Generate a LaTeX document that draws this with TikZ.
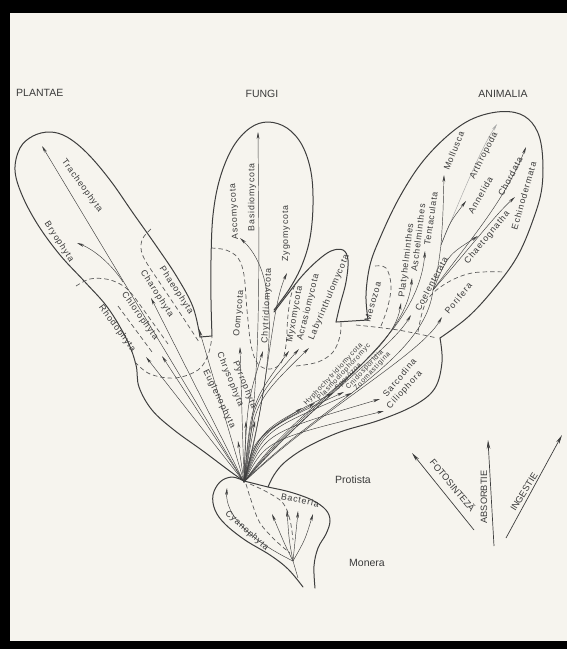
\documentclass[tikz,border=0pt]{standalone}
\usepackage{fontspec}
\setmainfont{Liberation Sans}
\newfontfamily\lblfont[LetterSpace=10]{Liberation Sans}
\usetikzlibrary{arrows.meta}
\definecolor{paper}{HTML}{F6F4EE}
\definecolor{ink}{HTML}{3E3E3E}
\definecolor{txt}{HTML}{3A3A3A}
\begin{document}
\begin{tikzpicture}[x=1pt,y=-1pt,
 outl/.style={draw=ink,line width=1pt,line join=round,line cap=round},
 dashln/.style={draw=ink!85,line width=0.7pt,dash pattern=on 4.5pt off 3pt},
 arr/.style={draw=ink,line width=0.45pt,-{Stealth[length=7pt,width=2.8pt]}},
 plainln/.style={draw=ink,line width=0.45pt},
 faint/.style={draw=ink!45,line width=0.45pt},
 lbl/.style={font=\lblfont\fontsize{8.8}{9}\selectfont,text=txt,inner sep=0.4pt,anchor=west},
 lbls/.style={lbl,font=\lblfont\fontsize{7}{8}\selectfont},
 biglbl/.style={font=\fontsize{10.5}{12}\selectfont,text=txt,inner sep=0pt},
 leg/.style={font=\fontsize{9.2}{10}\selectfont,text=txt,inner sep=0.5pt},
 legarr/.style={draw=ink,line width=0.7pt,-{Stealth[length=9pt,width=3.6pt]}},
]
\useasboundingbox (0,0) rectangle (567,649);
\fill[paper] (0,0) rectangle (567,649);
\fill[black] (0,0) rectangle (10,649);
\fill[black] (0,0) rectangle (567,13);
\fill[black] (0,641) rectangle (567,649);

% ---------- outlines ----------
\draw[outl] plot[smooth,tension=0.6] coordinates {(244,481) (231,472) (203,451) (174,430) (152,410) (139,387) (136,365) (127,340) (108,308) (85,282) (60,255) (38,225) (22,195) (15,170) (20,148) (33,136) (50,132) (67,137) (87,153) (110,180) (133,213) (157,247) (177,277) (193,307) (200,337)};
\draw[outl] (200,337) -- (212,336);
\draw[outl] plot[smooth,tension=0.6] coordinates {(212,336) (211,300) (211,260) (213,215) (220,178) (233,147) (250,128) (268,122) (287,128) (302,145) (311,172) (313,205) (310,238) (302,265) (290,288) (274,310)};
\draw[outl] plot[smooth,tension=0.6] coordinates {(274,312) (287,295) (302,276) (317,261) (331,251) (343,250) (348,260) (346,282) (340,305) (336,322)};
\draw[outl] (336,322) -- (368,320);
\draw[outl] plot[smooth,tension=0.6] coordinates {(368,320) (366,295) (370,265) (380,238) (398,200) (420,165) (445,138) (470,120) (497,112) (520,114) (535,127) (542,150) (542,187) (533,220) (517,257) (493,290) (468,317) (440,338)};
\draw[outl] plot[smooth,tension=0.6] coordinates {(440,338) (442,362) (435,388) (415,405) (380,420) (340,432) (307,447) (285,462) (274,475) (268,487)};
% Monera
\draw[outl] plot[smooth,tension=0.6] coordinates {(244,481) (256,484) (268,487) (290,492) (312,500) (326,510) (330,521) (326,534) (318,548) (314,566) (315,588)};
\draw[outl] plot[smooth,tension=0.6] coordinates {(244,481) (232,477) (220,482) (213,495) (215,510) (225,524) (245,540) (270,555) (288,569) (303,587)};

% ---------- dashed boundaries ----------
\draw[dashln] plot[smooth,tension=0.6] coordinates {(151,229) (142,240) (143,256) (160,283) (180,313) (199,342)};
\draw[dashln] plot[smooth,tension=0.6] coordinates {(76,286) (90,279) (106,279) (120,284) (131,293) (148,316) (168,344)};
\draw[dashln] (118,306) -- (152,352);
\draw[dashln] plot[smooth,tension=0.6] coordinates {(135,362) (150,374) (175,378) (198,370) (208,355) (212,337)};
\draw[dashln] plot[smooth,tension=0.6] coordinates {(211,248) (226,250) (238,258) (244,275) (247,310) (251,345) (258,364) (270,369) (281,363) (286,345) (288,315) (292,292) (300,278)};
\draw[dashln] plot[smooth,tension=0.6] coordinates {(296,366) (318,362) (333,352) (340,336) (341,322)};
\draw[dashln] plot[smooth,tension=0.6] coordinates {(356,325) (398,330) (437,338)};
\draw[dashln] plot[smooth,tension=0.6] coordinates {(375,266) (386,268) (391,285) (388,306) (381,326)};
\draw[dashln] plot[smooth,tension=0.6] coordinates {(418,332) (426,302) (445,284) (472,273) (505,272)};
\draw[dashln] plot[smooth,tension=0.6] coordinates {(246,484) (252,503) (260,523) (275,540) (290,553)};
\draw[dashln] plot[smooth,tension=0.6] coordinates {(250,484) (267,492) (283,503) (290,520) (293,540)};

% ---------- fan of lineages ----------
\coordinate (C) at (244,482);
\coordinate (tRho) at (146,357);
\coordinate (tChl) at (162,356);
\coordinate (tTra) at (42,146);
\coordinate (bBry) at (123,282);
\coordinate (tBry) at (77,243);
\coordinate (tCha) at (151,298);
\coordinate (tPha) at (199,329);
\coordinate (tEug) at (238,441);
\coordinate (tChr) at (246,421);
\coordinate (tPyr) at (255,421);
\coordinate (tOom) at (240,347);
\coordinate (tChy) at (263,351);
\coordinate (tBas) at (258,132);
\coordinate (tAsc) at (240,238);
\coordinate (tZyg) at (287,273);
\coordinate (tMyx) at (289,351);
\coordinate (tAcr) at (299,349);
\coordinate (tLab) at (309,348);
\coordinate (tHyp) at (302,408);
\coordinate (tPla) at (315,403);
\coordinate (tSpo) at (333,393);
\coordinate (tCni) at (344,392);
\coordinate (tZoo) at (352,393);
\coordinate (tSar) at (380,399);
\coordinate (tCil) at (384,411);
\coordinate (tPlt) at (401,303);
\coordinate (tAsh) at (412,278);
\coordinate (tTen) at (425,251);
\coordinate (tCoe) at (411,315);
\coordinate (tPor) at (442,317);
\coordinate (kA) at (433,290);
\coordinate (kB) at (441,245);
\coordinate (tMol) at (444,175);
\coordinate (tArt) at (497,124);
\coordinate (tAnn) at (466,201);
\coordinate (tCht) at (478,236);
\coordinate (tChd) at (526,147);
\coordinate (tEch) at (515,197);

\draw[arr] (C) -- (tRho);
\draw[arr] (C) -- (tChl);
\draw[arr] (C) -- (tTra);
\draw[arr] (bBry) .. controls (112,265) and (95,250) .. (tBry);
\draw[arr] (C) -- (tCha);
\draw[arr] (C) -- (tPha);
\draw[arr] (C) -- (tEug);
\draw[arr] (C) -- (tChr);
\draw[arr] (C) -- (tPyr);
\draw[arr] (C) -- (tOom);
\draw[arr] (C) .. controls (247,403) .. (tChy);
\draw[arr] (C) .. controls (262,380) and (259,260) .. (tBas);
\draw[arr] (C) .. controls (270,380) and (285,280) .. (tAsc);
\draw[arr] (C) .. controls (268,400) and (270,310) .. (tZyg);
\draw[arr] (C) .. controls (251,403) .. (tMyx);
\draw[arr] (C) .. controls (252,402) .. (tAcr);
\draw[arr] (C) .. controls (254,402) .. (tLab);
\draw[arr] (C) .. controls (253,440) .. (tHyp);
\draw[arr] (C) .. controls (256,436) .. (tPla);
\draw[arr] (C) .. controls (259,430) .. (tSpo);
\draw[arr] (C) .. controls (261,430) .. (tCni);
\draw[arr] (C) .. controls (263,431) .. (tZoo);
\draw[arr] (C) .. controls (265,433) .. (tSar);
\draw[arr] (C) .. controls (266,440) .. (tCil);
\draw[arr] (C) .. controls (300,400) and (392,360) .. (tPlt);
\draw[arr] (C) .. controls (305,400) and (405,350) .. (tAsh);
\draw[arr] (C) .. controls (310,400) and (418,340) .. (tTen);
\draw[arr] (C) .. controls (310,405) and (390,350) .. (tCoe);
\draw[arr] (C) .. controls (320,410) and (420,355) .. (tPor);
\draw[plainln] (C) .. controls (320,405) and (425,360) .. (kA);
\draw[plainln] (kA) .. controls (438,268) .. (kB);
\draw[arr] (kB) .. controls (443,215) .. (tMol);
\draw[faint,-{Stealth[length=7pt,width=2.8pt]}] (kB) .. controls (460,200) and (480,150) .. (tArt);
\draw[arr] (kB) .. controls (450,222) .. (tAnn);
\draw[arr] (kA) .. controls (448,255) .. (tCht);
\draw[arr] (kA) .. controls (470,240) and (505,200) .. (tChd);
\draw[arr] (kA) .. controls (470,248) and (495,215) .. (tEch);

% ---------- Monera lineages ----------
\coordinate (M) at (293,561);
\coordinate (tCya) at (227,488);
\coordinate (tBa1) at (272,514);
\coordinate (tBa2) at (287,510);
\coordinate (tBa3) at (298,511);
\coordinate (tBa4) at (313,514);
\draw[plainln] (M) -- (298,578);
\draw[arr] (M) .. controls (250,540) and (225,515) .. (tCya);
\draw[arr] (M) .. controls (285,545) .. (tBa1);
\draw[arr] (M) .. controls (289,540) .. (tBa2);
\draw[arr] (M) .. controls (296,538) .. (tBa3);
\draw[arr] (M) .. controls (305,540) .. (tBa4);

% ---------- labels ----------
\node[biglbl,anchor=west] (plantae) at (16,93) {PLANTAE};
\node[biglbl] (fungi) at (262,94) {FUNGI};
\node[biglbl] (animalia) at (503,94) {ANIMALIA};
\node[biglbl] (protista) at (353,480) {Protista};
\node[biglbl] (monera) at (367,563) {Monera};

\node[lbl,rotate=-54] (lTra) at (63,160) {Tracheophyta};
\node[lbl,rotate=-57] (lBry) at (46,222) {Bryophyta};
\node[lbl,rotate=-57] (lCha) at (142,271) {Charophyta};
\node[lbl,rotate=-57] (lPha) at (161,267) {Phaeophyta};
\node[lbl,rotate=-54] (lChl) at (123,293) {Chlorophyta};
\node[lbl,rotate=-53] (lRho) at (100,306) {Rhodophyta};
\node[lbl,rotate=-64] (lEug) at (205,370) {Euglenophyta};
\node[lbl,rotate=-68] (lChr) at (219,352) {Chrysophyta};
\node[lbl,rotate=-68] (lPyr) at (235,361) {Pyrrophyta};

\node[lbl,rotate=93] (lAsc) at (236,240) {Ascomycota};
\node[lbl,rotate=90] (lBas) at (252,232) {Basidiomycota};
\node[lbl,rotate=90] (lZyg) at (286,262) {Zygomycota};
\node[lbl,rotate=85] (lOom) at (237,337) {Oomycota};
\node[lbl,rotate=87] (lChy) at (265,344) {Chytridiomycota};
\node[lbl,rotate=80] (lMyx) at (290,343) {Myxomycota};
\node[lbl,rotate=76] (lAcr) at (300,341) {Acrasiomycota};
\node[lbl,rotate=67] (lLab) at (311,340) {Labyrinthulomycota};

\node[lbls,rotate=47] (lHyp) at (305,405) {Hyphochytridiomycota};
\node[lbls,rotate=47] (lPla) at (318,400) {Plasmodiophoromyc};
\node[lbls,rotate=47] (lSpo) at (336,390) {Sporozoa};
\node[lbls,rotate=47] (lCni) at (347,389) {Cnidosporidia};
\node[lbls,rotate=47] (lZoo) at (355,390) {Zoomastigina};
\node[lbl,rotate=50] (lSar) at (384,396) {Sarcodina};
\node[lbl,rotate=47] (lCil) at (388,408) {Ciliophora};

\node[lbl,rotate=74] (lMes) at (367,322) {Mesozoa};
\node[lbl,rotate=83] (lPlt) at (402,298) {Platyhelminthes};
\node[lbl,rotate=83] (lAsh) at (414,272) {Aschelminthes};
\node[lbl,rotate=82] (lTen) at (427,246) {Tentaculata};
\node[lbl,rotate=62] (lCoe) at (417,311) {Coelenterata};
\node[lbl,rotate=50] (lPor) at (446,313) {Porifera};
\node[lbl,rotate=50] (lCht) at (466,263) {Chaetognatha};
\node[lbl,rotate=68] (lMol) at (446,170) {Mollusca};
\node[lbl,rotate=63] (lArt) at (472,179) {Arthropoda};
\node[lbl,rotate=60] (lAnn) at (470,213) {Annelida};
\node[lbl,rotate=62] (lChd) at (500,196) {Chordata};
\node[lbl,rotate=74] (lEch) at (514,230) {Echinodermata};

\node[lbl,rotate=-42] (lCya) at (226,512) {Cyanophyta};
\node[lbl,rotate=-12,anchor=center] (lBac) at (300,500) {Bacteria};

% ---------- legend ----------
\coordinate (f0) at (474,530);
\coordinate (f1) at (412,453);
\coordinate (a0) at (494,546);
\coordinate (a1) at (488,440);
\coordinate (i0) at (506,538);
\coordinate (i1) at (562,435);
\draw[legarr] (f0) -- (f1);
\draw[legarr] (a0) -- (a1);
\draw[legarr] (i0) -- (i1);
\node[leg,rotate=-50] (lFot) at (453,485) {FOTOSINTEZĂ};
\node[leg,rotate=90] (lAbs) at (484,497) {ABSORBTIE};
\node[leg,rotate=58] (lIng) at (524,492) {INGESTIE};
\end{tikzpicture}
\end{document}
